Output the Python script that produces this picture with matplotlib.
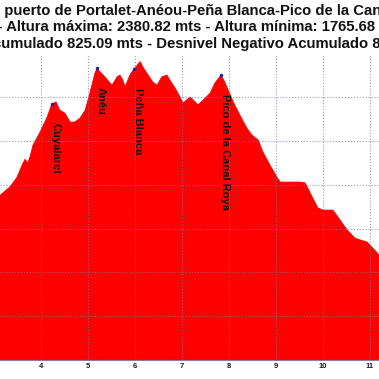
import matplotlib
matplotlib.use('Agg')
import matplotlib.pyplot as plt

plt.rcParams['font.family'] = ['Liberation Sans', 'DejaVu Sans']

# perfil (km, metros)
km = [3.00, 3.13, 3.34, 3.49, 3.60, 3.66, 3.72, 3.77, 3.83, 3.98, 4.13, 4.23, 4.32,
      4.40, 4.51, 4.62, 4.72, 4.83, 4.94, 5.04, 5.15, 5.19, 5.26, 5.36, 5.51,
      5.62, 5.68, 5.74, 5.79, 5.89, 5.98, 6.11, 6.17, 6.28, 6.38, 6.47, 6.57,
      6.68, 6.74, 6.85, 6.96, 7.02, 7.17, 7.28, 7.34, 7.45, 7.60, 7.70, 7.83,
      7.91, 8.09, 8.23, 8.38, 8.49, 8.62, 8.72, 8.87, 9.02, 9.09, 9.30, 9.51,
      9.62, 9.77, 9.89, 10.00, 10.21, 10.32, 10.51, 10.68, 10.79, 10.94, 11.06,
      11.19, 11.30]
alt = [2060, 2076, 2095, 2117, 2145, 2158, 2150, 2165, 2190, 2220, 2254, 2284, 2289,
       2270, 2263, 2243, 2243, 2252, 2270, 2309, 2355, 2366, 2357, 2346, 2327,
       2346, 2350, 2339, 2323, 2350, 2364, 2381, 2368, 2350, 2334, 2327, 2346,
       2350, 2339, 2321, 2300, 2286, 2300, 2289, 2282, 2293, 2309, 2332, 2350,
       2334, 2289, 2259, 2229, 2213, 2202, 2175, 2145, 2117, 2106, 2106, 2106,
       2104, 2072, 2047, 2042, 2042, 2026, 1997, 1978, 1974, 1969, 1955,
       1940, 1915]

# cimas
peak_names = ['Cuyalaret', 'Anéu', 'Peña Blanca', 'Pico de la Canal Roya']
peak_km = [4.23, 5.19, 5.98, 7.83]
peak_alt = [2284, 2366, 2364, 2350]

xticks = [4, 5, 6, 7, 8, 9, 10, 11]

title_lines = [
    ('Ruta al puerto de Portalet-Anéou-Peña Blanca-Pico de la Canal Roya', 'puerto', 4, 15),
    ('Distancia: 11.52 km - Altura máxima: 2380.82 mts - Altura mínima: 1765.68 mts', 'Altura máxima', 7, 31),
    ('Desnivel Positivo Acumulado 825.09 mts - Desnivel Negativo Acumulado 836.40 mts', 'umulado 825', 1.5, 47.7),
]

W = H = 379
fig = plt.figure(figsize=(W / 100, H / 100), dpi=100)
ax = fig.add_axes([0, 19 / H, 1, 305 / H])

ax.fill_between(km, alt, 1700, color='#ff0000', lw=0.6, edgecolor='#ff0000', zorder=1)
ax.plot(peak_km, peak_alt, 'o', color='#1f1fb0', ms=2.5, mec='none', zorder=3)
for name, x, y in zip(peak_names, peak_km, peak_alt):
    ax.annotate(name, (x, y), xytext=(3.5, -19), textcoords='offset pixels',
                rotation=270, ha='center', va='top', fontsize=8,
                fontweight='bold', color='#111111', zorder=4)

ax.set_xlim(3.128, 11.191)
ax.set_ylim(1700, 2396)
ax.set_xticks(xticks)
ax.set_xticklabels([str(t) for t in xticks], fontsize=5.5, fontweight='bold', color='#1a1a2a')
ax.set_yticks(range(1700, 2400, 100))
ax.tick_params(axis='x', length=0, pad=2)
ax.tick_params(axis='y', length=0, labelleft=False)
ax.grid(True, color='#7878a8', ls=':', lw=0.8, alpha=0.75, zorder=2)
ax.set_axisbelow(False)
for s in ['top', 'left', 'right']:
    ax.spines[s].set_visible(False)
ax.spines['bottom'].set_color('#8080a8')
ax.spines['bottom'].set_linewidth(0.8)

# titulo de tres lineas, recortado como en la imagen
title_size = 10.7
renderer = fig.canvas.get_renderer()
for full, start, x_px, y_px in title_lines:
    prefix = full[:full.index(start)]
    tmp = fig.text(0, 0, prefix, fontsize=title_size, fontweight='bold')
    w = tmp.get_window_extent(renderer).width
    tmp.remove()
    fig.text((x_px - w) / W, 1 - y_px / H, full, ha='left', va='baseline',
             fontsize=title_size, fontweight='bold', color='#111111')

fig.savefig('out.png', dpi=100)
